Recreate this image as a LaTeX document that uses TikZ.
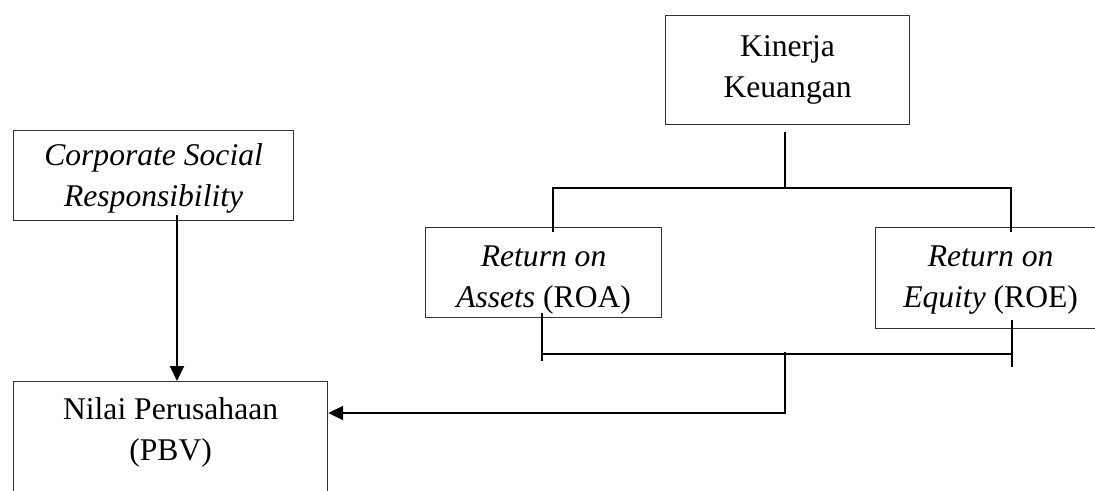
\documentclass[tikz,border=0pt]{standalone}
\usepackage{fontspec}
\setmainfont{Liberation Serif}
\usetikzlibrary{arrows.meta,calc}

\begin{document}
\begin{tikzpicture}[x=0.5pt,y=-0.5pt,
    box/.style={draw=black!80,line width=0.6pt,align=center,inner sep=0pt,
      anchor=north west,font=\fontsize{15.8}{20.5}\selectfont},
    link/.style={line width=1pt},
    >={Triangle[length=7.5pt,width=7pt]}]
    \clip (0,0) rectangle (1095,491);
    % boxes
    \node[box,minimum width=122pt,text height=41pt,text depth=13.5pt] (kin) at (665,15) {Kinerja\\Keuangan};
    \node[box,minimum width=140pt,text height=38pt,text depth=7pt] (csr) at (13,130) {\textit{Corporate Social}\\\textit{Responsibility}};
    \node[box,minimum width=118pt,text height=40pt,text depth=5pt] (roa) at (425,227) {\textit{Return on}\\\textit{Assets} (ROA)};
    \node[box,minimum width=115pt,text height=40pt,text depth=10.5pt] (roe) at (875,227) {\textit{Return on}\\\textit{Equity} (ROE)};
    \node[box,minimum width=157pt,text height=39.5pt,text depth=40pt] (nilai) at (13,381) {Nilai Perusahaan\\(PBV)};
    % junctions
    \coordinate (topbus) at (785,188);
    \coordinate (topL) at (553,188);
    \coordinate (topR) at (1011,188);
    \coordinate (botL) at (542,354);
    \coordinate (botR) at (1012,354);
    \coordinate (botmid) at (785,354);
    \coordinate (turn) at (785,413);
    \coordinate (csrout) at (177,215);
    % lines
    \draw[link] ($(topbus |- kin.south)+(0,7)$) -- (topbus);
    \draw[link] ($(topL |- roa.north)+(0,5)$) -- (topL) -- (topR) -- ($(topR |- roe.north)+(0,5)$);
    \draw[link] ($(botL |- roa.south)+(0,-5)$) -- ($(botL)+(0,7)$);
    \draw[link] ($(botR |- roe.south)+(0,-9)$) -- ($(botR)+(0,13)$);
    \draw[link] (botL) -- (botR);
    \draw[link,->] ($(botmid)+(0,-2)$) -- (turn) -- (turn -| nilai.east);
    \draw[link,->] (csrout) -- (csrout |- nilai.north);
\end{tikzpicture}
\end{document}
